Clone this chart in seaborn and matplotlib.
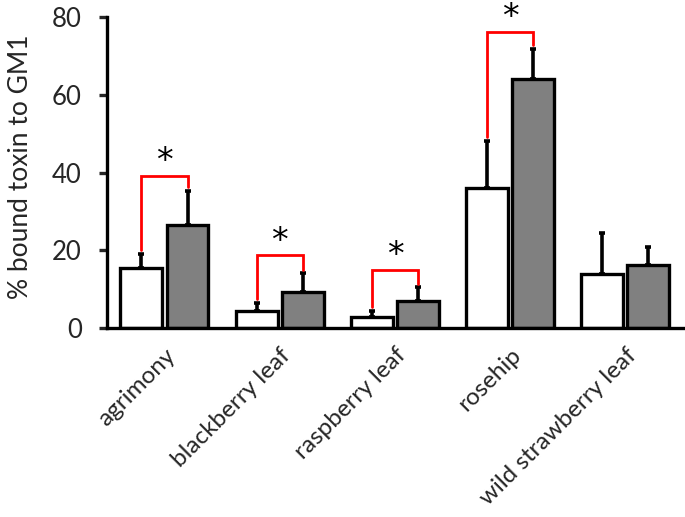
import matplotlib
matplotlib.use("Agg")
import matplotlib.pyplot as plt
import matplotlib.transforms as mtransforms
import seaborn as sns
import pandas as pd
import numpy as np

categories = ["agrimony", "blackberry leaf", "raspberry leaf", "rosehip", "wild strawberry leaf"]
series_names = ["A", "B"]
values_a = [15.5, 4.3, 2.8, 35.9, 13.8]
values_b = [26.6, 9.1, 6.9, 64.0, 16.3]
err_a = [3.5, 2.0, 1.6, 12.2, 10.5]
err_b = [8.6, 4.9, 3.5, 7.8, 4.4]
significant = [True, True, True, True, False]
bracket_heights = [39.2, 18.7, 14.9, 76.3, None]
yticks = [0, 20, 40, 60, 80]

sns.set_style("white")
plt.rcParams['font.family'] = ['Lato', 'DejaVu Sans']

df = pd.DataFrame({
    "category": categories * 2,
    "series": [series_names[0]] * 5 + [series_names[1]] * 5,
    "value": values_a + values_b,
})

fig = plt.figure(figsize=(6.85, 5.17), dpi=100)
ax = fig.add_axes([0.156, 0.366, 0.841, 0.6005])

sns.barplot(data=df, x="category", y="value", hue="series", order=categories,
            hue_order=series_names, palette=["white", "#808080"], gap=0.09,
            edgecolor="black", linewidth=2.4, errorbar=None, legend=False, ax=ax,
            saturation=1)

x = np.arange(len(categories))
off = 0.2
ax.errorbar(x - off, values_a, yerr=[np.zeros(5), err_a], fmt="none", ecolor="black",
            elinewidth=2.6, capsize=2.5, capthick=2.6, zorder=1)
ax.errorbar(x + off, values_b, yerr=[np.zeros(5), err_b], fmt="none", ecolor="black",
            elinewidth=2.6, capsize=2.5, capthick=2.6, zorder=1)

for i, sig in enumerate(significant):
    if not sig:
        continue
    h = bracket_heights[i]
    ya = values_a[i] + err_a[i] + 1.0
    yb = values_b[i] + err_b[i] + 1.0
    ax.plot([i - off, i - off, i + off, i + off], [ya, h, h, yb], color="red",
            lw=2.0, solid_joinstyle="miter", clip_on=False, zorder=3)
    ax.text(i, h + 3.6, "*", ha="center", va="center", fontsize=24,
            color="black", clip_on=False, fontfamily="DejaVu Sans")

ax.set_xlim(-0.5, 4.5)
ax.set_ylim(0, 80)
ax.set_yticks(yticks)
ax.set_yticklabels([str(t) for t in yticks], fontsize=18.5)
ax.set_ylabel("% bound toxin to GM1", fontsize=19, labelpad=12)
ax.yaxis.set_label_coords(-0.128, 0.52)
ax.set_xlabel("")
ax.set_xticks(x)
ax.set_xticklabels(categories, rotation=45, ha="right", rotation_mode="anchor", fontsize=17.5)
shift = mtransforms.ScaledTranslation(-16 / 100, 0, fig.dpi_scale_trans)
for lab in ax.get_xticklabels():
    lab.set_transform(lab.get_transform() + shift)

sns.despine(ax=ax, top=True, right=True)
for s in ["left", "bottom"]:
    ax.spines[s].set_linewidth(2.4)
    ax.spines[s].set_color("black")
ax.tick_params(axis="y", which="major", direction="out", length=6, width=2.4, left=True, pad=12)
ax.tick_params(axis="x", length=0, pad=12)

fig.savefig("out.png", dpi=100)
